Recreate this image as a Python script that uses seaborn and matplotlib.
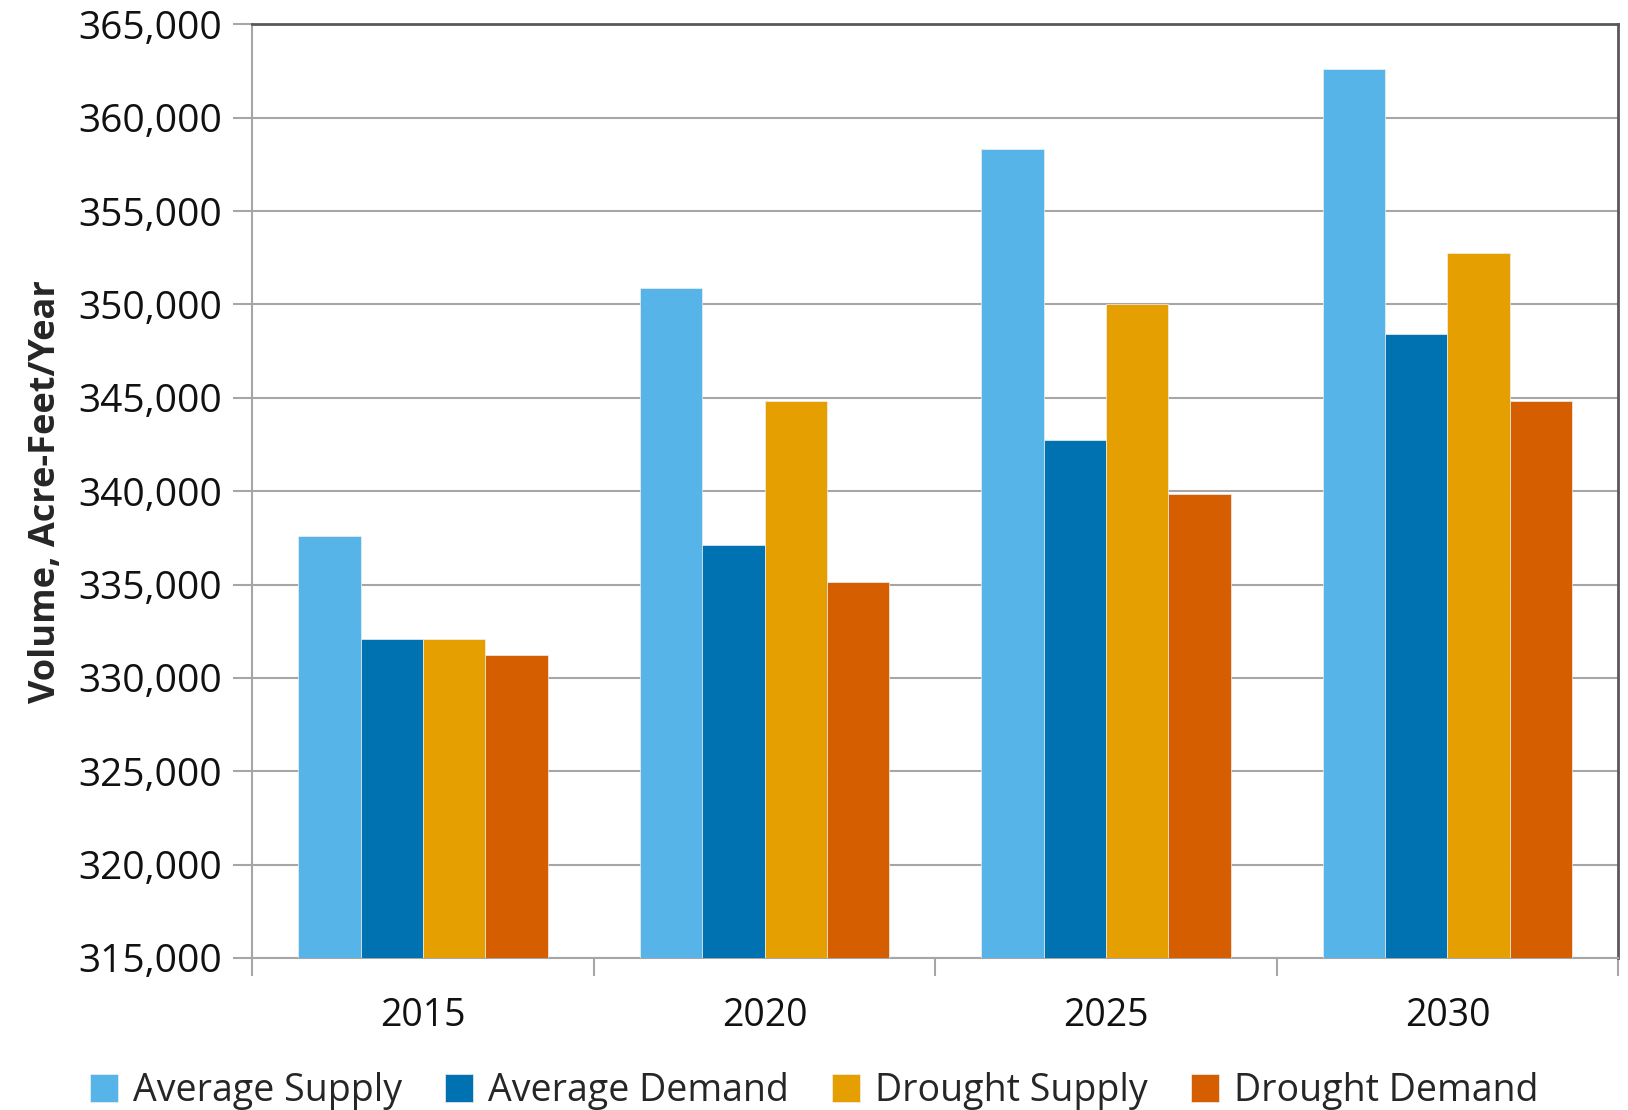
import matplotlib
matplotlib.use("Agg")
import matplotlib.pyplot as plt
import matplotlib.ticker as mticker
import pandas as pd
import seaborn as sns

# Values (acre-feet per year)
years = ["2015", "2020", "2025", "2030"]
series = ["Average Supply", "Average Demand", "Drought Supply", "Drought Demand"]
average_supply = [337600, 350900, 358350, 362600]
average_demand = [332100, 337100, 342750, 348400]
drought_supply = [332100, 344850, 350050, 352750]
drought_demand = [331250, 335150, 339850, 344850]
colors = ["#56B4E9", "#0072B2", "#E69F00", "#D55E00"]

# Long-form table for seaborn
rows = []
for name, vals in zip(series, [average_supply, average_demand, drought_supply, drought_demand]):
    for yr, v in zip(years, vals):
        rows.append({"year": yr, "series": name, "value": v})
df = pd.DataFrame(rows)

sns.set_theme(style="white")
plt.rcParams['font.family'] = ['Open Sans', 'DejaVu Sans']

fig = plt.figure(figsize=(16.28, 11.10), dpi=100)
ax = fig.add_axes([0.155, 0.137, 0.839, 0.841])

sns.barplot(data=df, x="year", y="value", hue="series", order=years,
            hue_order=series, palette=colors, saturation=1, width=0.73, gap=0,
            edgecolor="#f0f0f0", linewidth=0.5, ax=ax, zorder=3)

ax.set_ylim(315000, 365000)
ax.set_xlim(-0.5, 3.5)
ax.yaxis.set_major_locator(mticker.MultipleLocator(5000))
ax.yaxis.set_major_formatter(mticker.StrMethodFormatter("{x:,.0f}"))
ax.yaxis.grid(True, color="#a6a6a6", linewidth=1.5, zorder=0)
ax.set_axisbelow(True)

# ticks: category boundaries on x, short outward ticks on y
ax.set_xticks([-0.5, 0.5, 1.5, 2.5, 3.5], minor=True)
ax.tick_params(axis="x", which="major", length=0, pad=28, labelsize=27, labelcolor="#111111")
ax.tick_params(axis="x", which="minor", length=13, width=1.5, color="#a6a6a6", direction="out", bottom=True)
ax.tick_params(axis="y", which="major", length=14, width=1.5, color="#a6a6a6", direction="out",
               left=True, pad=8, labelsize=28, labelcolor="#111111")

for side in ["left", "bottom"]:
    ax.spines[side].set_color("#a6a6a6")
    ax.spines[side].set_linewidth(1.5)
for side in ["top", "right"]:
    ax.spines[side].set_color("#595959")
    ax.spines[side].set_linewidth(2)

ax.set_xlabel("")
ax.set_ylabel("Volume, Acre-Feet/Year", fontsize=26, fontweight="bold", labelpad=10)

handles, labels = ax.get_legend_handles_labels()
ax.legend_.remove()
fig.legend(handles, labels, loc="center", bbox_to_anchor=(0.5, 0.017), ncol=4,
           frameon=False, fontsize=27, handlelength=0.75, handleheight=0.75,
           handletextpad=0.4, columnspacing=1.15)

fig.savefig("out.png", dpi=100)
